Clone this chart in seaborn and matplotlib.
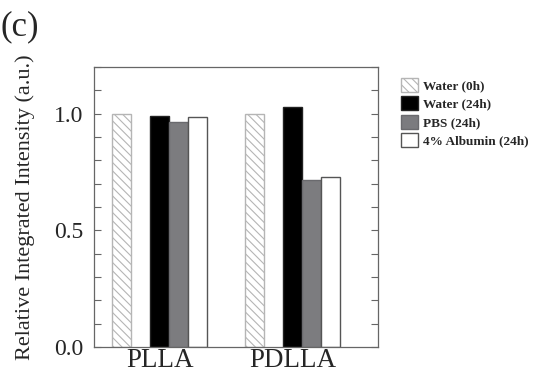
import numpy as np
import pandas as pd
import seaborn as sns
import matplotlib.pyplot as plt
from matplotlib.patches import Patch

polymers = ['PLLA', 'PDLLA']
conditions = ['Water (0h)', 'Water (24h)', 'PBS (24h)', '4% Albumin (24h)']
water_0h = [1.0, 1.0]
water_24h = [0.99, 1.027]
pbs_24h = [0.966, 0.717]
albumin_24h = [0.984, 0.727]

rows = []
for cond, vals in zip(conditions, [water_0h, water_24h, pbs_24h, albumin_24h]):
    for p, v in zip(polymers, vals):
        rows.append({'polymer': p, 'condition': cond, 'value': v})
df = pd.DataFrame(rows)

# empty slot between the 0h bar and the 24h bars
gap = ' '
hue_order = [conditions[0], gap] + conditions[1:]
face = {'Water (0h)': 'white', gap: 'white', 'Water (24h)': 'black',
        'PBS (24h)': '#7b7b7f', '4% Albumin (24h)': 'white'}
edge = {'Water (0h)': '#b5b5b5', gap: 'none', 'Water (24h)': '#222222',
        'PBS (24h)': '#6a6a6e', '4% Albumin (24h)': '#555555'}

sns.set_style('ticks')
plt.rcParams['font.family'] = ['Liberation Serif', 'DejaVu Serif']
plt.rcParams['hatch.linewidth'] = 0.8

fig = plt.figure(figsize=(5.39, 3.72), dpi=100)
ax = fig.add_axes([0.1744, 0.0672, 0.527, 0.7527])

sns.barplot(data=df, x='polymer', y='value', hue='condition', order=polymers,
            hue_order=hue_order, palette=face, width=0.714, legend=False,
            ax=ax, linewidth=1.0)

# colour each bar by the condition of its slot
for cont in ax.containers:
    for bar in cont:
        cx = bar.get_x() + bar.get_width() / 2
        gi = int(round(cx))
        slot = int(round((cx - gi + 0.357) / 0.1428 - 0.5))
        cond = hue_order[slot]
        bar.set_edgecolor(edge[cond])
        if cond == 'Water (0h)':
            bar.set_hatch('\\\\\\\\')

ax.set_xlim(-0.494, 1.641)
ax.set_ylim(0, 1.2)
ax.set_yticks([0.0, 0.5, 1.0])
ax.set_yticklabels(['0.0', '0.5', '1.0'], fontsize=17)
ax.set_yticks(np.arange(0, 1.21, 0.1), minor=True)
ax.tick_params(axis='y', which='both', direction='in', right=True, length=5,
               color='#666666', width=0.8)
ax.tick_params(axis='y', which='major', pad=8)
ax.tick_params(axis='x', length=0, labelsize=19.5, pad=1)
ax.set_xlabel('')
ax.set_ylabel('Relative Integrated Intensity (a.u.)', fontsize=16, labelpad=13)
for s in ax.spines.values():
    s.set_visible(True)
    s.set_color('#666666')
    s.set_linewidth(0.9)

handles = [Patch(facecolor='white', edgecolor='#b5b5b5', hatch='\\\\\\\\'),
           Patch(facecolor='black', edgecolor='#222222'),
           Patch(facecolor='#7b7b7f', edgecolor='#6a6a6e'),
           Patch(facecolor='white', edgecolor='#555555')]
leg = fig.legend(handles, conditions, loc='upper left', bbox_to_anchor=(0.735, 0.805),
                 frameon=False, prop={'size': 9.5, 'weight': 'bold'},
                 handlelength=1.25, handleheight=1.25, handletextpad=0.4,
                 labelspacing=0.3, borderaxespad=0)

fig.text(0.0, 0.972, '(c)', fontsize=25, va='top', ha='left')

fig.savefig('out.png', dpi=100)
